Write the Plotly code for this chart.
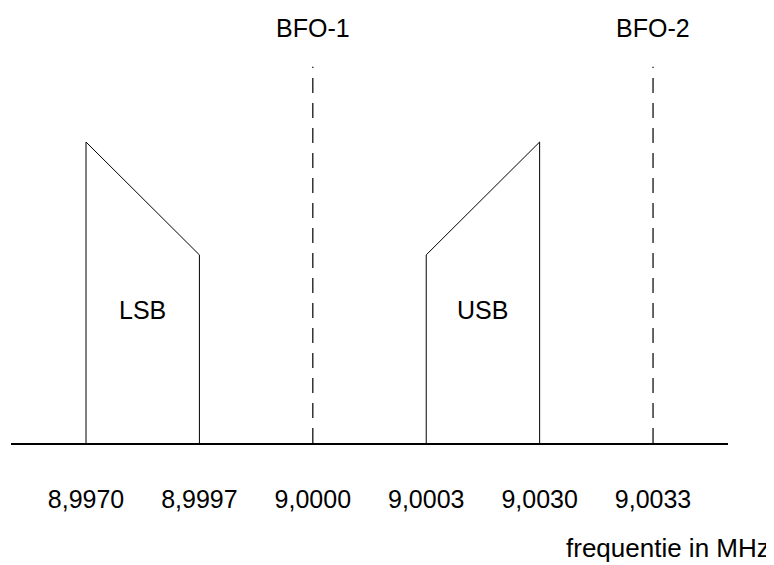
import plotly.graph_objects as go

# frequency positions (equally spaced in the drawing) and their labels
freq_labels = ["8,9970", "8,9997", "9,0000", "9,0003", "9,0030", "9,0033"]
freq_pos = [0, 1, 2, 3, 4, 5]

# sideband outlines (relative amplitude)
lsb_x = [0, 0, 1, 1]
lsb_y = [0, 1.0, 0.625, 0]
usb_x = [3, 3, 4, 4]
usb_y = [0, 0.625, 1.0, 0]

# BFO positions and marker height
bfo_names = ["BFO-1", "BFO-2"]
bfo_x = [2, 5]
bfo_top = 1.25

font = "Liberation Sans, Arial, sans-serif"

fig = go.Figure()

fig.add_trace(go.Scatter(x=lsb_x, y=lsb_y, mode="lines",
                         line=dict(color="black", width=1)))
fig.add_trace(go.Scatter(x=usb_x, y=usb_y, mode="lines",
                         line=dict(color="black", width=1)))

for bx in bfo_x:
    fig.add_trace(go.Scatter(x=[bx, bx], y=[0, bfo_top], mode="lines",
                             line=dict(color="black", width=1.2, dash="15px,10px")))

# sideband labels
fig.add_annotation(x=0.5, y=0.442, text="LSB", showarrow=False)
fig.add_annotation(x=3.5, y=0.442, text="USB", showarrow=False)

# BFO labels
for name, bx in zip(bfo_names, bfo_x):
    fig.add_annotation(x=bx, y=1.379, text=name, showarrow=False)

fig.add_annotation(xref="paper", yref="paper", x=1.0614, y=-0.2414,
                   xanchor="right", yanchor="middle", font=dict(size=26),
                   text="frequentie in MHz", showarrow=False)

fig.update_xaxes(range=[-0.6614, 5.661], showgrid=False, zeroline=False,
                 showline=True, linecolor="black", linewidth=1.5,
                 tickvals=freq_pos, ticktext=freq_labels, ticks="",
                 ticklabelstandoff=33, tickfont=dict(size=25, color="black"))
fig.update_yaxes(range=[0, 1.4452], showgrid=False, zeroline=False,
                 showticklabels=False, showline=False)

# page body adds an 8px offset, so the figure is 8px smaller than the window
fig.update_layout(width=766, height=557, showlegend=False,
                  margin=dict(l=3, r=46, t=0, b=122),
                  plot_bgcolor="white", paper_bgcolor="white",
                  font=dict(family=font, size=25, color="black"))

fig.write_html("out.html")
